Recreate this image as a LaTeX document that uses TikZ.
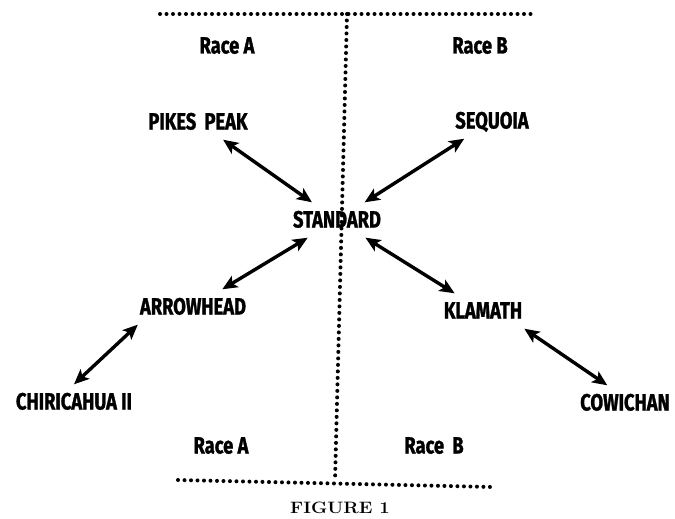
\documentclass[tikz,border=0pt]{standalone}
\usepackage{fontspec}
\newfontfamily\racefont[FakeStretch=0.78,BoldFeatures={FakeBold=1.2}]{Fira Sans}
\usetikzlibrary{arrows.meta}
\begin{document}
\begin{tikzpicture}[x=1pt,y=-1pt,
            strain/.style={font=\racefont\bfseries\fontsize{23.5}{23.5}\selectfont,
                text height=15pt,text depth=0pt,inner xsep=2pt,inner ysep=10pt},
            cross/.style={line width=3.4pt,{Stealth[length=15pt,width=13pt,inset=3.5pt]}-{Stealth[length=15pt,width=13pt,inset=3.5pt]}},
            border/.style={line width=4pt,line cap=round,dash pattern=on 0pt off 6.5pt}]
             \useasboundingbox (0,0) rectangle (675,519);
             % race boundaries
             \draw [border] (160,14) -- (531,14);
             \draw [border] (347,14) -- (335,481);
             \draw [border] (178,480) -- (492,487);
             \node[strain] (raceAt) at (227,46)  {Race A};
             \node[strain] (raceBt) at (480,46)  {Race B};
             \node[strain] (raceAb) at (221,446) {Race A};
             \node[strain] (raceBb) at (434,446) {Race\, B};
             \node[strain] (pikes)    at (198,122) {PIKES\, PEAK};
             \node[strain] (sequoia)  at (492,121) {SEQUOIA};
             \node[strain] (standard) at (337,220) {STANDARD};
             \node[strain] (arrowhd)  at (193,307) {ARROWHEAD};
             \node[strain] (klamath)  at (483,311) {KLAMATH};
             \node[strain] (chiri)    at (74,402)  {CHIRICAHUA II};
             \node[strain] (cowichan) at (625,403) {COWICHAN};
             \draw [cross] (pikes) -- (standard);
             \draw [cross] (sequoia) -- (standard);
             \draw [cross] (standard) -- (arrowhd);
             \draw [cross] (standard) -- (klamath);
             \draw [cross] (arrowhd.south west) -- (chiri.north);
             \draw [cross] (klamath.south east) -- (cowichan.135);
             \node[font=\bfseries\fontsize{16.5}{16.5}\selectfont] (caption) at (340,508) {\scalebox{1.12}[1]{FIGURE 1}};
        \end{tikzpicture}
\end{document}
